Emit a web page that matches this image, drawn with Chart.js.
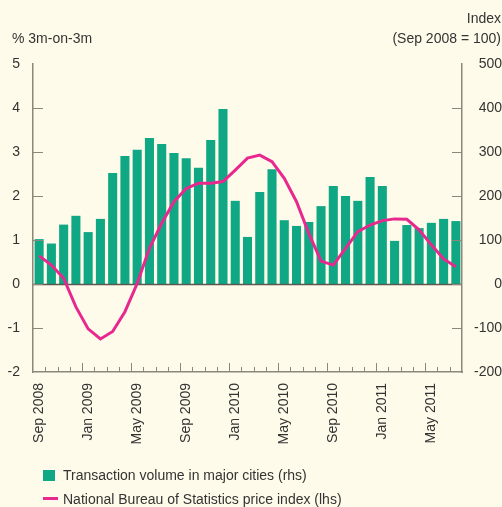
<!DOCTYPE html>
<html lang="en">
<head>
<meta charset="UTF-8">
<title>Transaction volume and price index</title>
<style>
    body {
        margin: 0;
        padding: 0;
        background-color: #fffbea;
        font-family: "Liberation Sans", Arial, sans-serif;
        color: #333;
    }
    .wrap {
        position: relative;
        width: 502px;
        height: 507px;
    }
    #chart {
        position: absolute;
        left: 0;
        top: 0;
    }
    .lbl {
        position: absolute;
        font-size: 14px;
        line-height: 16px;
        white-space: nowrap;
    }
    .legend-item {
        position: absolute;
        left: 43px;
        font-size: 14px;
        line-height: 16px;
        white-space: nowrap;
    }
    .swatch-bar {
        display: inline-block;
        width: 12px;
        height: 11px;
        background: #10a884;
        vertical-align: -1px;
        margin-right: 8px;
    }
    .swatch-line {
        display: inline-block;
        width: 15px;
        height: 3px;
        background: #e8288f;
        vertical-align: 4px;
        margin-right: 5px;
    }
</style>
</head>
<body>
<div class="wrap">
    <canvas id="chart" width="502" height="507"></canvas>
    <div class="lbl" style="left:12px; top:30px;">% 3m-on-3m</div>
    <div class="lbl" style="right:1px; top:10px; text-align:right;">Index</div>
    <div class="lbl" style="right:1px; top:30px; text-align:right;">(Sep 2008 = 100)</div>
    <div class="legend-item" style="top:467px;"><span class="swatch-bar"></span>Transaction volume in major cities (rhs)</div>
    <div class="legend-item" style="top:491px;"><span class="swatch-line"></span>National Bureau of Statistics price index (lhs)</div>
</div>

<script src="https://cdn.jsdelivr.net/npm/chart.js"></script>
<script>
    // months, Sep 2008 to Jul 2011
    const months = [
        'Sep 2008', 'Oct 2008', 'Nov 2008', 'Dec 2008',
        'Jan 2009', 'Feb 2009', 'Mar 2009', 'Apr 2009',
        'May 2009', 'Jun 2009', 'Jul 2009', 'Aug 2009',
        'Sep 2009', 'Oct 2009', 'Nov 2009', 'Dec 2009',
        'Jan 2010', 'Feb 2010', 'Mar 2010', 'Apr 2010',
        'May 2010', 'Jun 2010', 'Jul 2010', 'Aug 2010',
        'Sep 2010', 'Oct 2010', 'Nov 2010', 'Dec 2010',
        'Jan 2011', 'Feb 2011', 'Mar 2011', 'Apr 2011',
        'May 2011', 'Jun 2011', 'Jul 2011'
    ];

    // transaction volume index, rhs
    const volume = [
        102, 92, 135, 155, 118, 148, 252, 291,
        305, 332, 318, 298, 286, 264, 327, 398,
        189, 107, 209, 261, 145, 132, 141, 177,
        223, 200, 189, 243, 223, 98, 134, 127,
        139, 148, 143
    ];

    // NBS price index, % 3m-on-3m, lhs
    const priceIndex = [
        0.64, 0.43, 0.13, -0.52, -1.02, -1.25, -1.08, -0.63,
        0.01, 0.81, 1.38, 1.87, 2.17, 2.29, 2.29, 2.33,
        2.59, 2.86, 2.93, 2.78, 2.40, 1.87, 1.15, 0.52,
        0.43, 0.81, 1.19, 1.34, 1.44, 1.48, 1.47, 1.23,
        0.89, 0.57, 0.39
    ];

    const lhsTicks = { min: -2, max: 5, step: 1 };
    const rhsTicks = { min: -200, max: 500, step: 100 };

    const axisColor = '#8c877a';
    const textColor = '#333';
    const font = { family: '"Liberation Sans", Arial, sans-serif', size: 14 };

    // inward tick marks, zero line and month ticks
    const axisPlugin = {
        id: 'axisMarks',
        afterDatasetDraw(chart, args) {
            if (args.meta.type !== 'bar') return;
            const area = chart.chartArea;
            const y = chart.scales.y;
            const ctx = chart.ctx;
            ctx.save();
            ctx.strokeStyle = '#5a5750';
            ctx.lineWidth = 1.5;
            const zy = Math.round(y.getPixelForValue(0)) + 0.5;
            ctx.beginPath();
            ctx.moveTo(area.left, zy);
            ctx.lineTo(area.right, zy);
            ctx.stroke();
            ctx.restore();
        },
        afterDraw(chart) {
            const area = chart.chartArea;
            const x = chart.scales.x;
            const y = chart.scales.y;
            const y2 = chart.scales.y2;
            const ctx = chart.ctx;
            ctx.save();
            ctx.strokeStyle = axisColor;
            ctx.lineWidth = 1;
            ctx.beginPath();
            for (let v = lhsTicks.min + 1; v < lhsTicks.max; v += lhsTicks.step) {
                const py = Math.round(y.getPixelForValue(v)) + 0.5;
                ctx.moveTo(area.left, py);
                ctx.lineTo(area.left + 10, py);
            }
            for (let v = rhsTicks.min + 100; v < rhsTicks.max; v += rhsTicks.step) {
                const py = Math.round(y2.getPixelForValue(v)) + 0.5;
                ctx.moveTo(area.right, py);
                ctx.lineTo(area.right - 10, py);
            }
            const half = (x.getPixelForValue(1) - x.getPixelForValue(0)) / 2;
            for (let i = 1; i < months.length; i++) {
                const px = Math.round(x.getPixelForValue(i) - half) + 0.5;
                const m = months[i].slice(0, 3);
                const len = (m === 'Jan' || m === 'May' || m === 'Sep') ? 9 : 5;
                ctx.moveTo(px, area.bottom);
                ctx.lineTo(px, area.bottom - len);
            }
            ctx.stroke();
            ctx.restore();
        }
    };

    new Chart(document.getElementById('chart'), {
        type: 'bar',
        data: {
            labels: months,
            datasets: [
                {
                    type: 'line',
                    label: 'National Bureau of Statistics price index (lhs)',
                    data: priceIndex,
                    yAxisID: 'y',
                    borderColor: '#e8288f',
                    borderWidth: 3,
                    pointRadius: 0,
                    tension: 0,
                    order: 0
                },
                {
                    type: 'bar',
                    label: 'Transaction volume in major cities (rhs)',
                    data: volume,
                    yAxisID: 'y2',
                    backgroundColor: '#10a884',
                    barPercentage: 0.74,
                    categoryPercentage: 1,
                    order: 1
                }
            ]
        },
        options: {
            responsive: false,
            animation: false,
            layout: { padding: { top: 64, left: 0, right: 0, bottom: 0 } },
            plugins: {
                legend: { display: false },
                tooltip: { enabled: false }
            },
            scales: {
                x: {
                    offset: true,
                    grid: { display: false, drawTicks: false },
                    border: { display: true, color: axisColor, width: 1.5 },
                    afterFit(scale) { scale.height = 135; },
                    ticks: {
                        autoSkip: false,
                        maxRotation: 90,
                        minRotation: 90,
                        padding: 11,
                        color: textColor,
                        font: font,
                        callback(value, index) {
                            return index % 4 === 0 ? months[index] : '';
                        }
                    }
                },
                y: {
                    position: 'left',
                    min: lhsTicks.min,
                    max: lhsTicks.max,
                    grid: { display: false, drawTicks: false },
                    border: { display: true, color: axisColor, width: 1.5 },
                    afterFit(scale) { scale.width = 33; },
                    ticks: {
                        stepSize: lhsTicks.step,
                        padding: 13,
                        color: textColor,
                        font: font
                    }
                },
                y2: {
                    position: 'right',
                    min: rhsTicks.min,
                    max: rhsTicks.max,
                    grid: { display: false, drawTicks: false },
                    border: { display: true, color: axisColor, width: 1.5 },
                    afterFit(scale) { scale.width = 40; },
                    ticks: {
                        stepSize: rhsTicks.step,
                        crossAlign: 'far',
                        padding: 8,
                        color: textColor,
                        font: font
                    }
                }
            }
        },
        plugins: [axisPlugin]
    });
</script>
</body>
</html>
